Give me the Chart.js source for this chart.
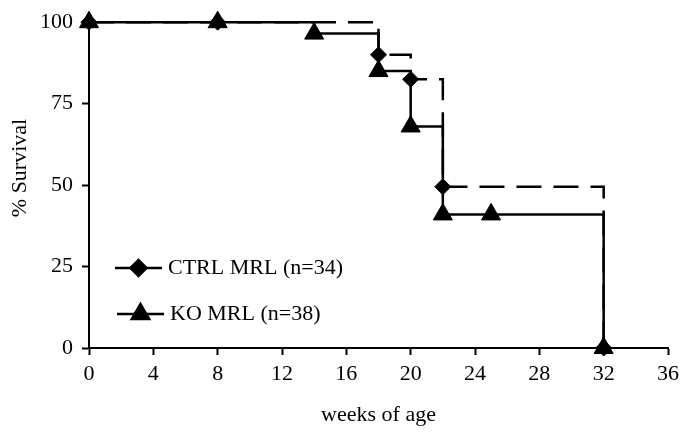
<!DOCTYPE html>
<html>
<head>
<meta charset="utf-8">
<script src="https://cdn.jsdelivr.net/npm/chart.js"></script>
<style>
html, body { margin:0; padding:0; background:#fff }
#wrap { width:685px; height:432px }
</style>
</head>
<body>
<div id="wrap"><canvas id="chart"></canvas></div>

<script>
// ===== DATA =====
const ctrlLabel = "CTRL MRL (n=34)";
const koLabel = "KO MRL (n=38)";
const yTitle = "% Survival";

const ctrlWeeks = [0, 8, 18, 20, 22, 32];
const ctrlSurvival = [100, 100, 90, 82.5, 49.5, 0];

const koWeeks = [0, 8, 14, 18, 20, 22, 25, 32];
const koSurvival = [100, 100, 96.5, 85, 68, 41, 41, 0];

const xTicks = [0, 4, 8, 12, 16, 20, 24, 28, 32, 36];
const yTicks = [0, 25, 50, 75, 100];

const FONT = "'Liberation Serif', 'Times New Roman', serif";

function pts(xs, ys) {
  return xs.map((x, i) => ({ x: x, y: ys[i] }));
}

// legend inside the plot (line + marker) and the y title, placed like the original
const extras = {
  id: "extras",
  afterDraw(chart) {
    const ctx = chart.ctx;
    const rows = [
      { ds: chart.data.datasets[0], y: 268, x0: 115, x1: 162, tx: 168 },
      { ds: chart.data.datasets[1], y: 314, x0: 117, x1: 164, tx: 170 }
    ];
    ctx.save();
    rows.forEach(r => {
      ctx.strokeStyle = "#000";
      ctx.lineWidth = 2.5;
      ctx.setLineDash([]);
      ctx.beginPath();
      ctx.moveTo(r.x0, r.y);
      ctx.lineTo(r.x1, r.y);
      ctx.stroke();
      ctx.fillStyle = "#000";
      Chart.helpers.drawPoint(ctx, {
        pointStyle: r.ds.pointStyle,
        radius: r.ds.pointStyle === "triangle" ? 10 : 8,
        rotation: 0,
        borderWidth: 1
      }, (r.x0 + r.x1) / 2, r.y);
      ctx.fillStyle = "#000";
      ctx.font = "22px " + FONT;
      ctx.textBaseline = "middle";
      ctx.textAlign = "left";
      ctx.fillText(r.ds.label, r.tx, r.y);
    });

    ctx.translate(20, 168);
    ctx.rotate(-Math.PI / 2);
    ctx.textAlign = "center";
    ctx.textBaseline = "middle";
    ctx.font = "22px " + FONT;
    ctx.fillText(yTitle, 0, 0);
    ctx.restore();
  }
};

new Chart(document.getElementById("chart"), {
  type: "scatter",
  data: {
    datasets: [
      {
        label: ctrlLabel,
        data: pts(ctrlWeeks, ctrlSurvival),
        showLine: true,
        stepped: "before",
        borderColor: "#000",
        borderWidth: 2.5,
        borderDash: [25, 12],
        pointStyle: "rectRot",
        pointRadius: 8,
        pointBackgroundColor: "#000",
        pointBorderColor: "#000",
        pointBorderWidth: 1
      },
      {
        label: koLabel,
        data: pts(koWeeks, koSurvival),
        showLine: true,
        stepped: "before",
        borderColor: "#000",
        borderWidth: 2.5,
        pointStyle: "triangle",
        pointRadius: 11,
        pointBackgroundColor: "#000",
        pointBorderColor: "#000",
        pointBorderWidth: 1
      }
    ]
  },
  options: {
    responsive: true,
    maintainAspectRatio: false,
    animation: false,
    clip: false,
    layout: { padding: { top: 22, right: 17, left: 0, bottom: 0 } },
    plugins: {
      legend: { display: false },
      tooltip: { enabled: false }
    },
    scales: {
      x: {
        type: "linear",
        min: 0,
        max: 36,
        afterBuildTicks(s) { s.ticks = xTicks.map(v => ({ value: v })); },
        afterFit(s) { s.height = 84; },
        grid: { display: true, drawOnChartArea: false, drawTicks: true, tickLength: 7, tickColor: "#000", tickWidth: 2 },
        border: { color: "#000", width: 2 },
        ticks: { color: "#000", font: { family: FONT, size: 22 }, padding: 6, maxRotation: 0 },
        title: { display: true, text: "weeks of age", color: "#000", font: { family: FONT, size: 22 }, padding: { top: 4 } }
      },
      y: {
        min: 0,
        max: 100,
        afterBuildTicks(s) { s.ticks = yTicks.map(v => ({ value: v })); },
        afterFit(s) { s.width = 89; },
        grid: { display: true, drawOnChartArea: false, drawTicks: true, tickLength: 7, tickColor: "#000", tickWidth: 2 },
        border: { color: "#000", width: 2 },
        ticks: { color: "#000", font: { family: FONT, size: 22 }, padding: 9 }
      }
    }
  },
  plugins: [extras]
});
</script>
</body>
</html>
